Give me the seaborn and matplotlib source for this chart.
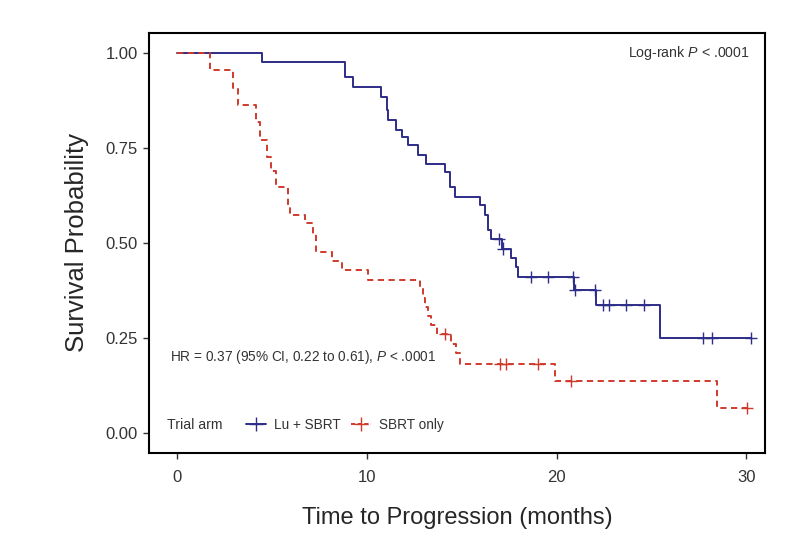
import numpy as np
import pandas as pd
import seaborn as sns
import matplotlib.pyplot as plt
from matplotlib.lines import Line2D

# Kaplan-Meier steps (time in months, survival after the step)
lu_times = [0, 4.44, 8.83, 9.27, 10.76, 11.03, 11.11, 11.55, 11.82, 12.16, 12.69, 13.13,
            14.10, 14.36, 14.63, 15.94, 16.20, 16.38, 16.56, 17.10, 17.61, 17.87, 17.95,
            20.90, 22.09, 25.46, 30.25]
lu_surv = [1.0, 0.977, 0.938, 0.911, 0.885, 0.850, 0.824, 0.798, 0.780, 0.758, 0.732, 0.709,
           0.688, 0.648, 0.622, 0.600, 0.574, 0.534, 0.510, 0.486, 0.460, 0.438, 0.411,
           0.378, 0.337, 0.251, 0.251]
lu_censor = [16.95, 17.20, 18.66, 19.54, 20.85, 20.95, 22.05, 22.43, 22.78, 23.67, 24.63,
             27.73, 28.19, 30.25]

sbrt_times = [0, 1.72, 2.92, 3.20, 4.14, 4.35, 4.75, 4.95, 5.20, 5.85, 5.95, 6.72, 7.16, 7.30,
              8.13, 8.66, 10.06, 12.78, 12.95, 13.05, 13.20, 13.40, 13.70, 14.45, 14.70,
              14.89, 19.94, 28.49, 30.07]
sbrt_surv = [1.0, 0.955, 0.909, 0.863, 0.818, 0.771, 0.727, 0.690, 0.648, 0.600, 0.575, 0.552,
             0.525, 0.477, 0.453, 0.429, 0.404, 0.381, 0.357, 0.333, 0.308, 0.284, 0.262,
             0.235, 0.210, 0.183, 0.137, 0.066, 0.066]
sbrt_censor = [14.10, 17.00, 17.32, 19.01, 20.77, 30.07]

arms = ["Lu + SBRT", "SBRT only"]
colors = {"Lu + SBRT": "#2e2d88", "SBRT only": "#cf3a2c"}


def surv_at(times, surv, t):
    i = np.searchsorted(times, t, side="right") - 1
    return surv[i]


curve = pd.concat([
    pd.DataFrame({"time": lu_times, "surv": lu_surv, "arm": arms[0]}),
    pd.DataFrame({"time": sbrt_times, "surv": sbrt_surv, "arm": arms[1]}),
], ignore_index=True)

cens = pd.concat([
    pd.DataFrame({"time": lu_censor,
                  "surv": [surv_at(lu_times, lu_surv, t) for t in lu_censor], "arm": arms[0]}),
    pd.DataFrame({"time": sbrt_censor,
                  "surv": [surv_at(sbrt_times, sbrt_surv, t) for t in sbrt_censor], "arm": arms[1]}),
], ignore_index=True)

sns.set_style("white")
plt.rcParams['font.family'] = ['Liberation Sans', 'DejaVu Sans']
plt.rcParams['mathtext.fontset'] = 'custom'
plt.rcParams['mathtext.rm'] = 'Liberation Sans'
plt.rcParams['mathtext.it'] = 'Liberation Sans:italic'

fig = plt.figure(figsize=(8.06, 5.56), dpi=100)
ax = fig.add_axes([0.1849, 0.1853, 0.7643, 0.7553])

sns.lineplot(data=curve, x="time", y="surv", hue="arm", style="arm", palette=colors,
             dashes={"Lu + SBRT": "", "SBRT only": (3.2, 2.3)}, drawstyle="steps-post",
             estimator=None, sort=False, linewidth=1.4, legend=False, ax=ax)
sns.scatterplot(data=cens, x="time", y="surv", hue="arm", palette=colors, marker="+",
                s=75, linewidth=1.0, legend=False, ax=ax, zorder=3)

ax.set_xlim(-1.5, 31.0)
ax.set_ylim(-0.052, 1.053)
ax.set_xticks([0, 10, 20, 30])
ax.set_yticks([0, 0.25, 0.5, 0.75, 1.0])
ax.set_yticklabels(["0.00", "0.25", "0.50", "0.75", "1.00"])
ax.tick_params(axis="both", which="both", direction="out", length=4, width=1,
               labelsize=12, labelcolor="#333333", color="#333333", bottom=True, left=True)
ax.tick_params(axis="y", pad=4)
ax.tick_params(axis="x", pad=8)
for s in ax.spines.values():
    s.set_color("black")
    s.set_linewidth(1.5)

ax.set_xlabel("Time to Progression (months)", fontsize=17, labelpad=16)
ax.set_ylabel("Survival Probability", fontsize=18.5, labelpad=12)

ax.text(30.2, 1.0, "Log-rank $P$ < .0001", ha="right", va="center", fontsize=10.2, color="#333333")
ax.text(-0.4, 0.2, "HR = 0.37 (95% CI, 0.22 to 0.61), $P$ < .0001", ha="left", va="center",
        fontsize=9.8, color="#333333")
ax.text(-0.55, 0.021, "Trial arm", ha="left", va="center", fontsize=10.2, color="#333333")

handles = [Line2D([], [], color=colors[a], marker="+", markersize=10, linewidth=1.4,
                  linestyle="-" if a == arms[0] else (0, (2.2, 1.2))) for a in arms]
ax.legend(handles, arms, ncol=2, frameon=False, loc="center left",
          bbox_to_anchor=(0.157, 0.067), borderaxespad=0, borderpad=0,
          handlelength=1.5, handletextpad=0.6, columnspacing=0.7, fontsize=9.8,
          labelcolor="#333333")

plt.savefig("out.png", dpi=100)
